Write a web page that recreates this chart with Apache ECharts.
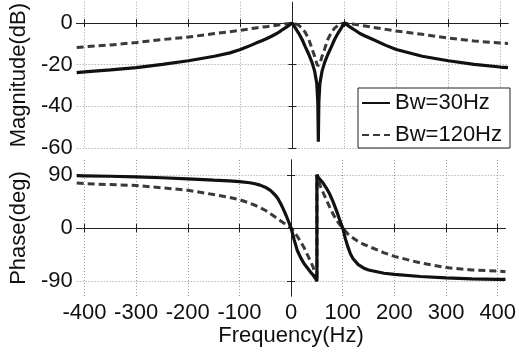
<!DOCTYPE html>
<html>
<head>
<meta charset="utf-8">
<script src="https://cdn.jsdelivr.net/npm/echarts@6/dist/echarts.min.js"></script>
<style>
  html, body { margin: 0; padding: 0; background: #fff; }
  #chart { width: 519px; height: 356px; }
</style>
</head>
<body>
<div id="chart"></div>
<script>
// frequency points (Hz); 50 appears twice for the jump at the notch
var freq = [-415, -400, -350, -300, -250, -200, -150, -120, -100, -80,
  -70, -60, -50, -40, -30, -25, -20, -15, -10, -5,
  0, 6, 12, 19, 25, 32, 38, 43, 47, 49,
  50, 50, 51, 53, 57, 62, 68, 75, 81, 88,
  94, 100, 105, 110, 115, 120, 130, 140, 150, 180,
  200, 250, 300, 350, 400, 415];

var magBw30 = [-23.8, -23.4, -22.5, -21.4, -19.8, -18.1, -15.9, -14.3, -12.7, -10.7,
  -9.6, -8.6, -7.5, -6.3, -5.0, -4.2, -3.3, -2.5, -1.7, -0.8,
  0, -2.4, -4.8, -8.0, -11.4, -15.2, -19.0, -23.2, -29, -38,
  -57, -57, -38, -29, -23.2, -19.0, -15.2, -11.4, -8.0, -4.8,
  -2.4, 0, -0.8, -1.7, -2.5, -3.3, -5.0, -6.2, -7.3, -10.7,
  -12.7, -15.9, -18.1, -19.8, -21.1, -21.4];

var magBw120 = [-11.7, -11.4, -10.5, -9.3, -7.9, -6.7, -5.0, -4.1, -3.5, -2.7,
  -2.3, -2.0, -1.7, -1.4, -1.0, -0.8, -0.6, -0.45, -0.3, -0.15,
  0, -0.3, -1.0, -2.5, -4.5, -8.0, -12.5, -16.0, -19.5, -20.5,
  -21, -21, -20.5, -19.5, -16.0, -12.5, -8.0, -4.5, -2.5, -1.0,
  -0.3, 0, -0.15, -0.3, -0.45, -0.6, -1.0, -1.4, -1.8, -3.0,
  -3.8, -5.4, -7.2, -8.6, -9.5, -9.8];

var phBw30 = [88.5, 88.3, 87.5, 86.6, 85, 83, 80.8, 79.6, 78.4, 76.5,
  74.8, 72.5, 69, 63.5, 55, 49, 41, 32, 22, 11,
  0, -20, -38, -51, -60, -68, -75, -80, -85, -88,
  -90, 90, 88, 85, 81, 76, 68, 57, 45, 29,
  14, 0, -18, -32, -44, -52, -62, -67.5, -71, -76.5,
  -78.5, -82, -84.5, -86, -86.8, -87];

var phBw120 = [76, 75, 73.5, 71.8, 68, 63.8, 56.6, 52, 48, 42,
  38.5, 34.5, 30, 24, 18, 15, 12, 9, 6, 3,
  0, -7, -14, -24, -33, -46, -57, -67, -79, -86,
  -90, 90, 87, 81, 70, 60, 48, 35, 24, 13,
  6, 0, -5, -10, -14, -17, -23, -27.5, -31, -42,
  -48, -59, -67, -71, -73, -74];

var freqTicks = [-400, -300, -200, -100, 0, 100, 200, 300, 400];
var magTicks = [-60, -40, -20, 0];
var phTicks = [-90, 0, 90];
var seriesNames = ['Bw=30Hz', 'Bw=120Hz'];

(function() {
  var chart = echarts.init(document.getElementById('chart'), null, { renderer: 'canvas' });
  var font = 'Liberation Sans, Arial, sans-serif';
  var frame = '#222';
  var gridLine = { show: true, lineStyle: { color: '#9a9a9a', type: [1, 2], width: 1 } };

  function pairs(ys) {
    return freq.map(function(f, i) { return [f, ys[i]]; });
  }

  function xAx(grid, pos, labels) {
    return {
      type: 'value', gridIndex: grid, position: pos, min: -415, max: 415,
      axisLine: { show: true, lineStyle: { color: frame, width: 1 } },
      axisTick: { show: true, inside: true, length: 4, customValues: freqTicks, lineStyle: { color: frame } },
      axisLabel: { show: labels, customValues: freqTicks, margin: 6, color: '#111', fontSize: 22, fontFamily: font },
      splitLine: pos === 'bottom' ? gridLine : { show: false }
    };
  }

  function yAx(grid, pos, min, max, ticks, name, labels) {
    return {
      type: 'value', gridIndex: grid, position: pos, min: min, max: max,
      name: labels ? name : '', nameLocation: 'middle', nameGap: 36, nameRotate: 90,
      nameTextStyle: { color: '#111', fontSize: 22, fontFamily: font },
      axisLine: { show: true, lineStyle: { color: frame, width: 1 } },
      axisTick: { show: true, inside: true, length: 4, customValues: ticks, lineStyle: { color: frame } },
      axisLabel: { show: labels, customValues: ticks, margin: 4, color: '#111', fontSize: 22, fontFamily: font },
      splitLine: pos === 'left' ? gridLine : { show: false }
    };
  }

  var xBottom = xAx(1, 'bottom', true);
  xBottom.name = 'Frequency(Hz)';
  xBottom.nameLocation = 'middle';
  xBottom.nameGap = 27;
  xBottom.nameTextStyle = { color: '#111', fontSize: 22, fontFamily: font };

  var solid = { color: '#111', width: 3.2, type: 'solid' };
  var dashed = { color: '#3a3a3a', width: 3, type: [7, 4] };

  chart.setOption({
    animation: false,
    backgroundColor: '#fff',
    grid: [
      { left: 72, right: 11, top: 2, height: 146 },
      { left: 72, right: 11, top: 160, height: 136 }
    ],
    legend: {
      data: seriesNames,
      orient: 'vertical',
      left: 358, top: 88,
      padding: [4, 8, 2, 3],
      itemGap: 10, itemWidth: 28, itemHeight: 22,
      itemStyle: { opacity: 0 },
      backgroundColor: '#fff',
      borderColor: frame, borderWidth: 1, borderRadius: 0,
      textStyle: { color: '#111', fontSize: 22, fontFamily: font },
      z: 10
    },
    xAxis: [xAx(0, 'bottom', false), xAx(0, 'top', false), xBottom, xAx(1, 'top', false)],
    yAxis: [
      yAx(0, 'left', -60, 10, magTicks, 'Magnitude(dB)', true),
      yAx(0, 'right', -60, 10, magTicks, '', false),
      yAx(1, 'left', -115, 115, phTicks, 'Phase(deg)', true),
      yAx(1, 'right', -115, 115, phTicks, '', false)
    ],
    series: [
      { name: seriesNames[1], type: 'line', xAxisIndex: 0, yAxisIndex: 0, data: pairs(magBw120),
        showSymbol: false, symbol: 'none', lineStyle: dashed, itemStyle: { color: dashed.color } },
      { name: seriesNames[0], type: 'line', xAxisIndex: 0, yAxisIndex: 0, data: pairs(magBw30),
        showSymbol: false, symbol: 'none', lineStyle: solid, itemStyle: { color: solid.color } },
      { name: seriesNames[1], type: 'line', xAxisIndex: 2, yAxisIndex: 2, data: pairs(phBw120),
        showSymbol: false, symbol: 'none', lineStyle: dashed, itemStyle: { color: dashed.color } },
      { name: seriesNames[0], type: 'line', xAxisIndex: 2, yAxisIndex: 2, data: pairs(phBw30),
        showSymbol: false, symbol: 'none', lineStyle: solid, itemStyle: { color: solid.color } }
    ]
  });
})();
</script>
</body>
</html>
